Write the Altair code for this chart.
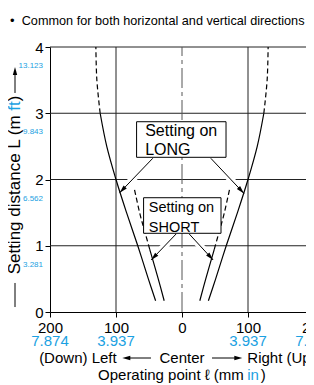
import math
import altair as alt
import pandas as pd

W, H = 264, 265
BLUE = "#1ba1e2"
MAIN = "Liberation Sans, Arial, Helvetica, sans-serif"

# ---------------- data ----------------
x_ticks = [-200, -100, 0, 100, 200]
x_inch = ["7.874", "3.937", "", "3.937", "7.874"]
y_ticks = [0, 1, 2, 3, 4]
y_ft = ["", "3.281", "6.562", "9.843", "13.123"]
grid_x = [-100, 100]
grid_y = [1, 2, 3, 4]

# half-curves (mirrored left / right): distance y (m), lateral |x| (mm)
long_solid_y = [0.17, 0.5, 1.0, 1.5, 2.0, 2.5, 3.0]
long_solid_x = [40, 51, 67, 84, 100, 114, 124]
long_dash_y = [3.0, 3.5, 4.0]
long_dash_x = [124, 129, 130.5]
short_solid_y = [0.17, 0.5, 0.95]
short_solid_x = [27, 36, 49]
short_dash_y = [0.95, 1.2, 1.45, 1.85]
short_dash_x = [49, 56, 63, 72]

# annotation boxes
box_x1 = [-68.8, -58.2]
box_x2 = [66.7, 59.1]
box_y1 = [2.335, 1.188]
box_y2 = [2.872, 1.725]

# leader arrows (start -> tip)
arr_x1 = [-44.3, 43.7, -9.0, 11.0]
arr_y1 = [2.32, 2.32, 1.177, 1.177]
arr_x2 = [-94.5, 93.9, -46.7, 47.2]
arr_y2 = [1.80, 1.79, 0.785, 0.785]

# ---------------- helpers ----------------
xs = alt.Scale(domain=[-200, 200], nice=False, zero=False)
ys = alt.Scale(domain=[0, 4], nice=False, zero=False)

XAX = alt.Axis(values=x_ticks, title=None, grid=False,
               labelExpr="format(abs(datum.value), 'd')", domainColor="black",
               tickColor="black", tickSize=5, labelFontSize=15, labelFont=MAIN,
               labelColor="black", labelPadding=3, labelFlush=False, labelOverlap=False)
YAX = alt.Axis(values=y_ticks, title=None, grid=False, format="d", domainColor="black",
               tickColor="black", tickSize=5, labelFontSize=15, labelFont=MAIN,
               labelColor="black", labelPadding=2, labelFlush=False, labelOverlap=False)


def X(f="x"):
    return alt.X(f"{f}:Q", scale=xs, axis=XAX, title=None)


def Y(f="y"):
    return alt.Y(f"{f}:Q", scale=ys, axis=YAX, title=None)


def label(t, x=None, y=None, px=None, py=None, **kw):
    d = pd.DataFrame({"t": [t], "x": [0 if x is None else x], "y": [0 if y is None else y]})
    enc = dict(text="t:N")
    enc["x"] = X() if x is not None else alt.value(px)
    enc["y"] = Y() if y is not None else alt.value(py)
    kw.setdefault("font", MAIN)
    kw.setdefault("fontSize", 15)
    kw.setdefault("color", "black")
    kw.setdefault("baseline", "alphabetic")
    kw.setdefault("align", "left")
    return alt.Chart(d).mark_text(**kw).encode(**enc)


ARROW = "M0,-1L0.55,1L-0.55,1Z"

hgrid = alt.Chart(pd.DataFrame({"y": grid_y, "x": [-200] * 4, "x2": [200] * 4})).mark_rule(
    color="#222", strokeWidth=1).encode(y=Y(), x=X(), x2="x2:Q")
vgrid = alt.Chart(pd.DataFrame({"x": grid_x, "y": [0, 0], "y2": [4, 4]})).mark_rule(
    color="#222", strokeWidth=1).encode(x=X(), y=Y(), y2="y2:Q")
center = alt.Chart(pd.DataFrame({"x": [0], "y": [0], "y2": [4]})).mark_rule(
    color="#555", strokeWidth=1, strokeDash=[20, 4, 4, 4]).encode(x=X(), y=Y(), y2="y2:Q")


def curve_df(name, yv, xv):
    rows = []
    for side in (-1, 1):
        for a, b in zip(yv, xv):
            rows.append({"x": side * b, "y": a, "c": f"{name}{side}"})
    return pd.DataFrame(rows)


def curve(df, dash=None):
    kw = dict(color="black", strokeWidth=1.2, interpolate="catmull-rom")
    if dash:
        kw["strokeDash"] = dash
    return alt.Chart(df).mark_line(**kw).encode(
        x=X(), y=Y(), detail="c:N", order=alt.Order("y:Q"))


curves = [
    curve(curve_df("ls", long_solid_y, long_solid_x)),
    curve(curve_df("ld", long_dash_y, long_dash_x), [5, 3]),
    curve(curve_df("ss", short_solid_y, short_solid_x)),
    curve(curve_df("sd", short_dash_y, short_dash_x), [5, 3]),
]

# arrows
sx, sy = W / 400.0, H / 4.0
rows = []
for a, b, c, d in zip(arr_x1, arr_y1, arr_x2, arr_y2):
    dx, dy = (c - a) * sx, -(d - b) * sy
    ln = math.hypot(dx, dy)
    ux, uy = dx / ln, dy / ln
    ang = math.degrees(math.atan2(dx, -dy)) % 360
    rows.append({"x": a, "y": b, "x2": c, "y2": d,
                 "hx": c - ux * 4 / sx, "hy": d + uy * 4 / sy, "ang": ang})
arr_df = pd.DataFrame(rows)
halo = alt.Chart(arr_df).mark_rule(color="white", strokeWidth=7).encode(
    x=X(), y=Y(), x2="x2:Q", y2="y2:Q")
arr_lines = alt.Chart(arr_df).mark_rule(color="black", strokeWidth=1).encode(
    x=X(), y=Y(), x2="x2:Q", y2="y2:Q")
arr_heads = alt.Chart(arr_df).mark_point(shape=ARROW, filled=True, size=64, color="black",
                                         opacity=1).encode(
    x=X("hx"), y=Y("hy"), angle=alt.Angle("ang:Q", scale=None))

box_df = pd.DataFrame({"x": box_x1, "x2": box_x2, "y": box_y1, "y2": box_y2})
boxes = alt.Chart(box_df).mark_rect(fill="white", stroke="black", strokeWidth=1).encode(
    x=X(), x2="x2:Q", y=Y(), y2="y2:Q")

box_texts = [
    label("Setting on", x=-55.8, y=2.657, fontSize=16),
    label("LONG", x=-55.8, y=2.370, fontSize=16),
    label("Setting on", x=-50.3, y=1.509, fontSize=14.5),
    label("SHORT", x=-50.3, y=1.215, fontSize=14.5),
]

# secondary (inch / ft) tick labels
xin = alt.Chart(pd.DataFrame({"x": x_ticks, "t": x_inch})).mark_text(
    font=MAIN, fontSize=15, color=BLUE, baseline="alphabetic", align="center").encode(
    x=X(), y=alt.value(H + 33.5), text="t:N")
yft = alt.Chart(pd.DataFrame({"y": y_ticks, "t": y_ft})).mark_text(
    font=MAIN, fontSize=8, color=BLUE, align="right", baseline="middle", dy=19).encode(
    x=alt.value(-7), y=Y(), text="t:N")

# bottom direction labels
dir_texts = [
    label("(Down) Left", x=-99, py=H + 51, align="right"),
    label("Center", x=0, py=H + 51, align="center"),
    label("Right (Up)", x=99, py=H + 51, align="left"),
    label("Operating point \u2113 (mm", x=93.6, py=H + 67.5, align="right"),
    label("in", x=98.9, py=H + 67.5, align="left", color=BLUE),
    label(")", x=119.5, py=H + 67.5, align="left"),
]
dir_lines = alt.Chart(pd.DataFrame({"x": [-85, 45.5], "x2": [-47, 86]})).mark_rule(
    color="black", strokeWidth=1).encode(x=X(), x2="x2:Q", y=alt.value(H + 46))
dir_heads = alt.Chart(pd.DataFrame({"x": [-84.4, 85.3], "ang": [270, 90]})).mark_point(
    shape=ARROW, filled=True, size=64, color="black", opacity=1).encode(
    x=X(), y=alt.value(H + 46), angle=alt.Angle("ang:Q", scale=None))

# y title
YT = -35
ytitle = [
    label("Setting distance L (m", px=YT, y=2.969, angle=270, align="right",
          baseline="middle", fontSize=17),
    label("ft", px=YT, y=3.182, angle=270, align="right", baseline="middle",
          fontSize=17, color=BLUE),
    label(")", px=YT, y=3.268, angle=270, align="right", baseline="middle", fontSize=17),
]
yt_lines = alt.Chart(pd.DataFrame({"y": [3.306, 0.075], "y2": [3.608, 0.438]})).mark_rule(
    color="black", strokeWidth=1).encode(x=alt.value(YT), y=Y(), y2="y2:Q")
yt_head = alt.Chart(pd.DataFrame({"y": [3.638]})).mark_point(
    shape=ARROW, filled=True, size=64, color="black", opacity=1, angle=0).encode(
    x=alt.value(YT), y=Y())

title = [
    label("\u2022", px=-40, py=-22, fontSize=13),
    label("Common for both horizontal and vertical directions", px=-28.3, py=-22,
          fontSize=12.7),
]

layers = ([hgrid, vgrid, center, halo] + curves +
          [arr_lines, arr_heads, boxes] + box_texts + [xin, yft] + dir_texts +
          [dir_lines, dir_heads] + ytitle + [yt_lines, yt_head] + title)

chart = alt.layer(*layers).properties(
    width=W, height=H,
    autosize=alt.AutoSizeParams(type="none"),
    padding={"left": 42, "top": 39, "right": -8, "bottom": 73},
).configure_view(stroke=None)

chart.save("out.html", embed_options={"renderer": "svg", "actions": False})
